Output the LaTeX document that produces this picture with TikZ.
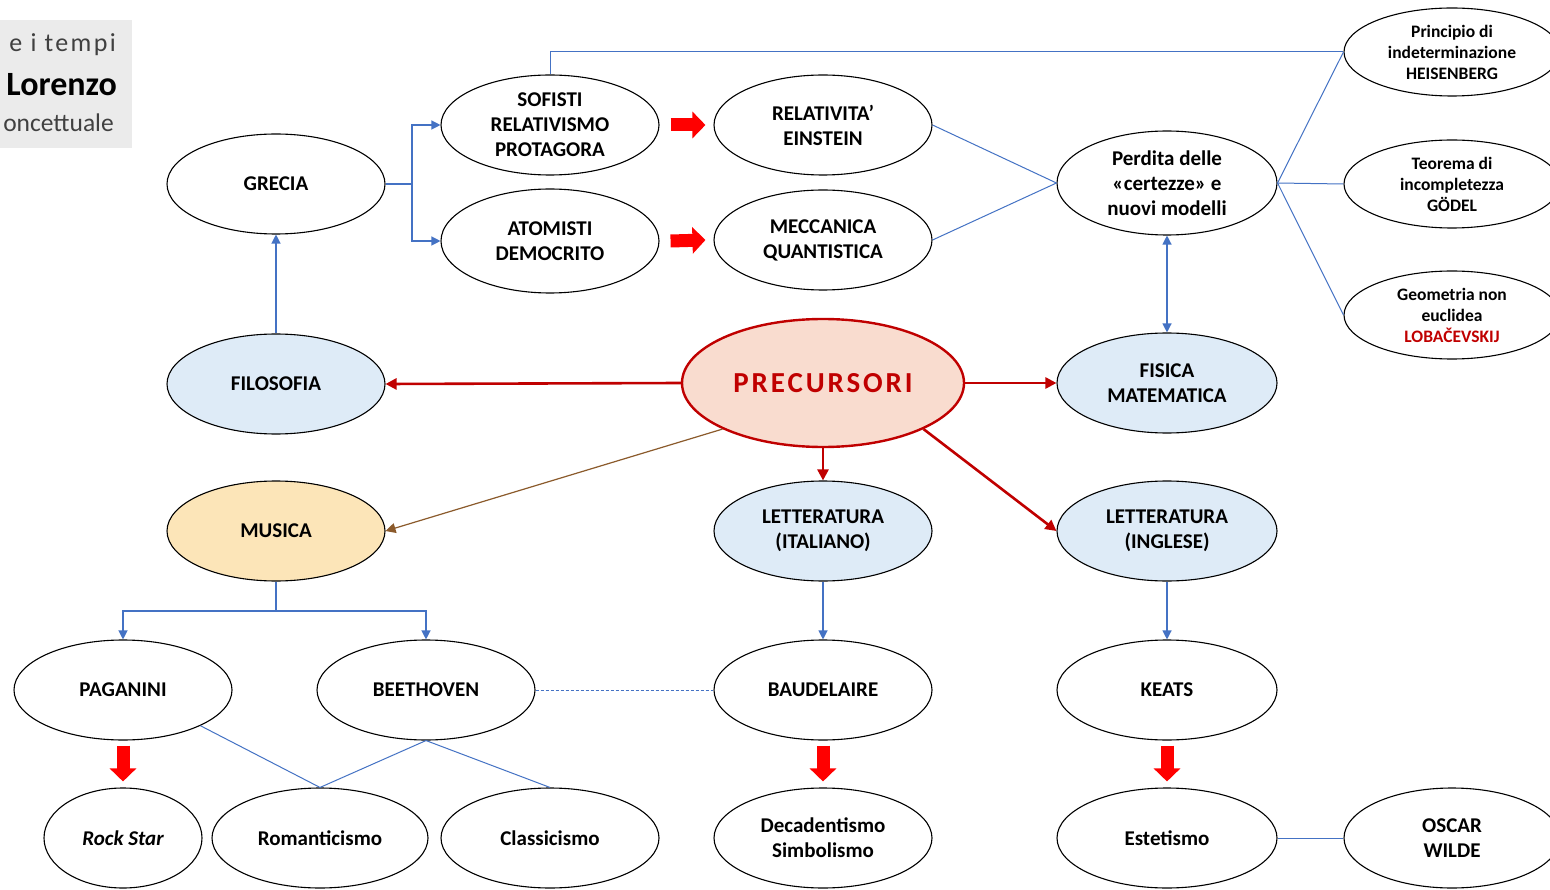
\documentclass[tikz,border=0pt]{standalone}
\usepackage{fontspec}
\setmainfont{Carlito}
\usetikzlibrary{shapes.geometric,arrows.meta,calc}
\definecolor{cblue}{HTML}{4472C4}
\definecolor{lblue}{HTML}{DEEBF7}
\definecolor{lyell}{HTML}{FCE5B8}
\definecolor{lpeach}{HTML}{F9DCCF}
\definecolor{dred}{HTML}{C00000}
\definecolor{brn}{HTML}{8B5A2B}
\definecolor{boxgray}{HTML}{EBEBEB}
\definecolor{txtgray}{HTML}{404040}
\begin{document}
\begin{tikzpicture}[x=1pt,y=-1pt,
  ov/.style={ellipse,draw=black,line width=1.1pt,inner sep=0pt,align=center,
    minimum width=218pt,minimum height=100pt,
    font=\bfseries\fontsize{21}{25}\selectfont},
  sm/.style={ov,minimum width=216pt,minimum height=88pt,
    font=\bfseries\fontsize{17.5}{21}\selectfont},
  bl/.style={fill=lblue},
  bline/.style={draw=cblue,line width=1.2pt},
  barrow/.style={bline,-{Triangle[length=9pt,width=9pt]}},
  rarrow/.style={draw=dred,line width=2.6pt,-{Triangle[length=11pt,width=11pt]}},
  blk/.style={draw=red,line width=13pt,-{Triangle[length=13pt,width=26pt]}},
]
\useasboundingbox (0,0) rectangle (1550,890);
\fill[white] (0,0) rectangle (1550,890);

% title box
\fill[boxgray] (0,20) rectangle (132,148);
\node[anchor=east,inner sep=0pt,text=txtgray,font=\fontsize{26}{30}\selectfont\addfontfeature{LetterSpace=9}] (t1) at (116,45) {e i tempi};
\node[anchor=east,inner sep=0pt,font=\bfseries\fontsize{34}{38}\selectfont] (t2) at (117,85) {Lorenzo};
\node[anchor=east,inner sep=0pt,text=txtgray,font=\fontsize{25.5}{30}\selectfont] (t3) at (114,123) {oncettuale};

% nodes
\node[ov] (gre) at (276,184) {GRECIA};
\node[ov] (sof) at (550,125) {SOFISTI\\RELATIVISMO\\PROTAGORA};
\node[ov,minimum height=104pt] (ato) at (550,241) {ATOMISTI\\DEMOCRITO};
\node[ov] (rel) at (823,125) {RELATIVITA’\\EINSTEIN};
\node[ov] (mec) at (823,240) {MECCANICA\\QUANTISTICA};
\node[ov,minimum width=220pt,minimum height=104pt] (per) at (1167,183) {Perdita delle\\«certezze» e\\nuovi modelli};
\node[sm] (hei) at (1452,52) {Principio di\\indeterminazione\\HEISENBERG};
\node[sm] (god) at (1452,184) {Teorema di\\incompletezza\\GÖDEL};
\node[sm] (lob) at (1452,315) {Geometria non\\euclidea\\\textcolor{dred}{LOBAČEVSKIJ}};

\node[ov,bl] (fil) at (276,384) {FILOSOFIA};
\node[ellipse,draw=dred,line width=2.4pt,fill=lpeach,inner sep=0pt,minimum width=282pt,minimum height=128pt,
  text=dred,font=\bfseries\fontsize{29}{32}\selectfont\addfontfeature{LetterSpace=10}] (pre) at (823,383) {PRECURSORI};
\node[ov,bl,minimum width=220pt] (fis) at (1167,383) {FISICA\\MATEMATICA};

\node[ov,fill=lyell] (mus) at (276,531) {MUSICA};
\node[ov,bl] (ita) at (823,531) {LETTERATURA\\(ITALIANO)};
\node[ov,bl,minimum width=220pt] (ing) at (1167,531) {LETTERATURA\\(INGLESE)};

\node[ov] (pag) at (123,690) {PAGANINI};
\node[ov] (bee) at (426,690) {BEETHOVEN};
\node[ov] (bau) at (823,690) {BAUDELAIRE};
\node[ov,minimum width=220pt] (kea) at (1167,690) {KEATS};

\node[ov,minimum width=158pt] (roc) at (123,838) {\itshape Rock Star};
\node[ov,minimum width=216pt] (rom) at (320,838) {Romanticismo};
\node[ov] (cla) at (550,838) {Classicismo};
\node[ov] (dec) at (823,838) {Decadentismo\\Simbolismo};
\node[ov,minimum width=220pt] (est) at (1167,838) {Estetismo};
\node[ov,minimum width=216pt] (osc) at (1452,838) {OSCAR\\WILDE};

% blue connectors
\coordinate (gf) at (412,184);
\draw[bline] (gre.east) -- (gf);
\draw[barrow] (gf) |- (sof.west);
\draw[barrow] (gf) |- (ato.west);
\draw[barrow] (fil.north) -- (gre.south);
\draw[bline,line width=1pt] (sof.north) |- (hei.west);
\draw[bline,line width=1pt] (rel.east) -- (per.west);
\draw[bline,line width=1pt] (mec.east) -- (per.west);
\draw[bline,line width=1pt] (per.east) -- (hei.west);
\draw[bline,line width=1pt] (per.east) -- (god.west);
\draw[bline,line width=1pt] (per.east) -- (lob.west);
\draw[bline,{Triangle[length=9pt,width=9pt]}-{Triangle[length=9pt,width=9pt]}] (per.south) -- (fis.north);

\coordinate (mf) at (276,611);
\draw[bline] (mus.south) -- (mf);
\draw[barrow] (mf) -| (pag.north);
\draw[barrow] (mf) -| (bee.north);
\draw[barrow] (ita.south) -- (bau.north);
\draw[barrow] (ing.south) -- (kea.north);
\draw[bline,line width=1pt,dash pattern=on 3pt off 2pt] (bee.east) -- (bau.west);
\draw[bline,line width=1pt] (pag.south east) -- (rom.north);
\draw[bline,line width=1pt] (bee.south) -- (rom.north);
\draw[bline,line width=1pt] (bee.south) -- (cla.north);
\draw[bline,line width=1pt] (est.east) -- (osc.west);

% red connectors
\draw[rarrow] (pre.west) -- (fil.east);
\draw[rarrow] (pre.east) -- (fis.west);
\draw[rarrow] (pre.south) -- (ita.north);
\draw[rarrow] (pre.south east) -- (ing.west);
\draw[draw=brn,line width=1.2pt,-{Triangle[length=10pt,width=10pt]}] (pre.south west) -- (mus.east);

% block arrows
\draw[blk] ([xshift=11pt]sof.east) -- ([xshift=-8pt]rel.west);
\draw[blk] ([xshift=11pt]ato.east) -- ([xshift=-8pt]mec.west);
\draw[blk] ([yshift=-5pt]pag.south) -- ([yshift=6pt]roc.north);
\draw[blk] ([yshift=-5pt]bau.south) -- ([yshift=6pt]dec.north);
\draw[blk] ([yshift=-5pt]kea.south) -- ([yshift=6pt]est.north);
\end{tikzpicture}
\end{document}
